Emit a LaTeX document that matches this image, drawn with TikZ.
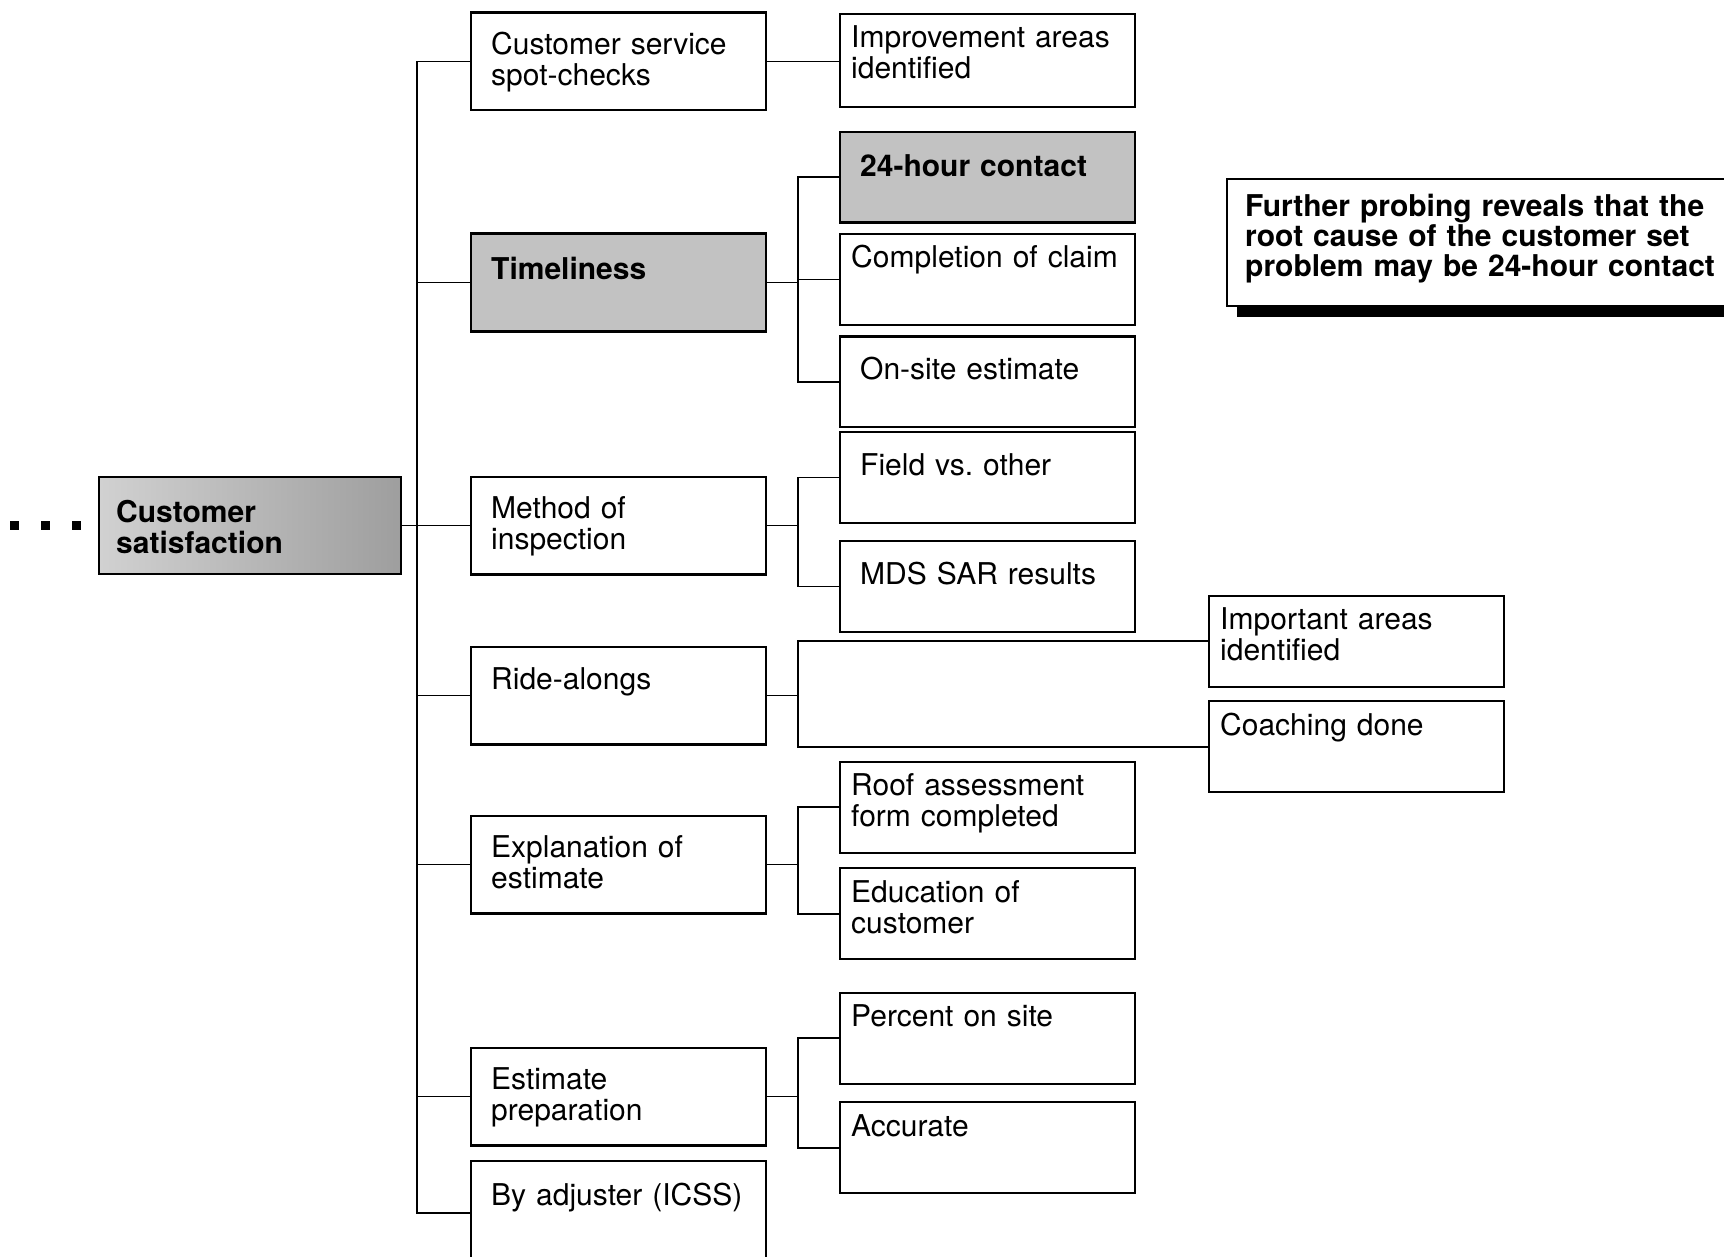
\documentclass[tikz,border=0pt]{standalone}
\usepackage{fontspec}
\setmainfont{TeX Gyre Heros}
\usetikzlibrary{positioning,shadows}
\tikzset{
  box/.style={draw=black,line width=1.2pt,fill=white,align=left,inner ysep=0pt,font=\fontsize{15}{15.5}\selectfont},
  mainbox/.style={box,inner xsep=10pt,text width=127.3pt,text height=21pt,text depth=27.8pt},
  leaf/.style={box,inner xsep=5.5pt,text width=136.3pt,text height=17pt,text depth=28.5pt},
  wideleaf/.style={leaf,inner xsep=10pt,text width=127.3pt,text height=21.5pt,text depth=23.8pt},
  hot/.style={fill=black!24,font=\fontsize{15}{15.5}\selectfont\bfseries},
  rootbox/.style={box,font=\fontsize{15}{15.5}\selectfont\bfseries,left color=black!18,right color=black!38,
    inner xsep=8.5pt,text width=133.8pt,text height=22.5pt,text depth=25.8pt},
  notebox/.style={box,inner xsep=9pt,text width=240pt,text height=18.5pt,text depth=44.8pt,
    font=\fontsize{15}{15}\selectfont\bfseries,
    drop shadow={shadow xshift=5pt,shadow yshift=-5.5pt,fill=black,opacity=1}},
  link/.style={draw=black,line width=0.9pt},
}
\begin{document}
\begin{tikzpicture}[node distance=36pt]
  \useasboundingbox (0,0) rectangle (862pt,-628.5pt);
  % root and first level
  \node[rootbox,anchor=north west] (root) at (49pt,-238pt) {Customer\\satisfaction};
  \node[mainbox,right=34pt of root] (meth) {Method of\\inspection};
  \node[mainbox,hot,text height=23pt,text depth=25.8pt,above=71.5pt of meth] (tim) {Timeliness};
  \node[mainbox,above=60.5pt of tim] (spot) {Customer service\\spot-checks};
  \node[mainbox,text height=21.5pt,text depth=27.3pt,below=35pt of meth] (ride) {Ride-alongs};
  \node[mainbox,below=34.5pt of ride] (expl) {Explanation of\\estimate};
  \node[mainbox,below=66pt of expl] (prep) {Estimate\\preparation};
  \node[mainbox,text height=22.5pt,text depth=30pt,below=6.5pt of prep] (adj) {By adjuster (ICSS)};
  % second level
  \node[leaf,text depth=29.5pt,right=of spot,yshift=0.5pt] (improve) {Improvement areas\\identified};
  \node[leaf,right=of tim,yshift=1.5pt] (complete) {Completion of claim};
  \node[wideleaf,hot,text height=22.5pt,text depth=22.8pt,above=4.5pt of complete] (h24) {24-hour contact};
  \node[wideleaf,below=4.5pt of complete] (onsite) {On-site estimate};
  \node[wideleaf,above right=0.75pt and 36pt of meth.east] (field) {Field vs.\ other};
  \node[wideleaf,below=8pt of field] (mds) {MDS SAR results};
  \node[leaf,above right=3.75pt and 220.5pt of ride.east] (important) {Important areas\\identified};
  \node[leaf,below=6pt of important] (coaching) {Coaching done};
  \node[leaf,above right=5.25pt and 36pt of expl.east] (roof) {Roof assessment\\form completed};
  \node[leaf,below=6.5pt of roof] (edu) {Education of\\customer};
  \node[leaf,above right=5.75pt and 36pt of prep.east] (percent) {Percent on site};
  \node[leaf,below=8pt of percent] (accurate) {Accurate};
  \node[notebox,anchor=north west] (note) at (613pt,-89pt) {Further probing reveals that the\\root cause of the customer set\\problem may be 24-hour contact};
  % leading dots
  \foreach \d in {11,26.5,42}
    \fill ([xshift=-\d pt]root.west) +(-2.25pt,-2.25pt) rectangle +(2.25pt,2.25pt);
  % trunk
  \draw[link] (root.east) -- ++(7.5pt,0) coordinate (trunk);
  \foreach \n in {spot,tim,meth,ride,expl,prep,adj}
    \draw[link] (trunk) |- (\n.west);
  \draw[link] (spot.east) -- (spot.east -| improve.west);
  % buses to the leaves
  \foreach \p/\kids in {tim/{h24,complete,onsite},meth/{field,mds},ride/{important,coaching},expl/{roof,edu},prep/{percent,accurate}}{
    \draw[link] (\p.east) -- ++(15.5pt,0) coordinate (bus);
    \foreach \k in \kids
      \draw[link] (bus) |- (\k.west);
  }
\end{tikzpicture}
\end{document}
